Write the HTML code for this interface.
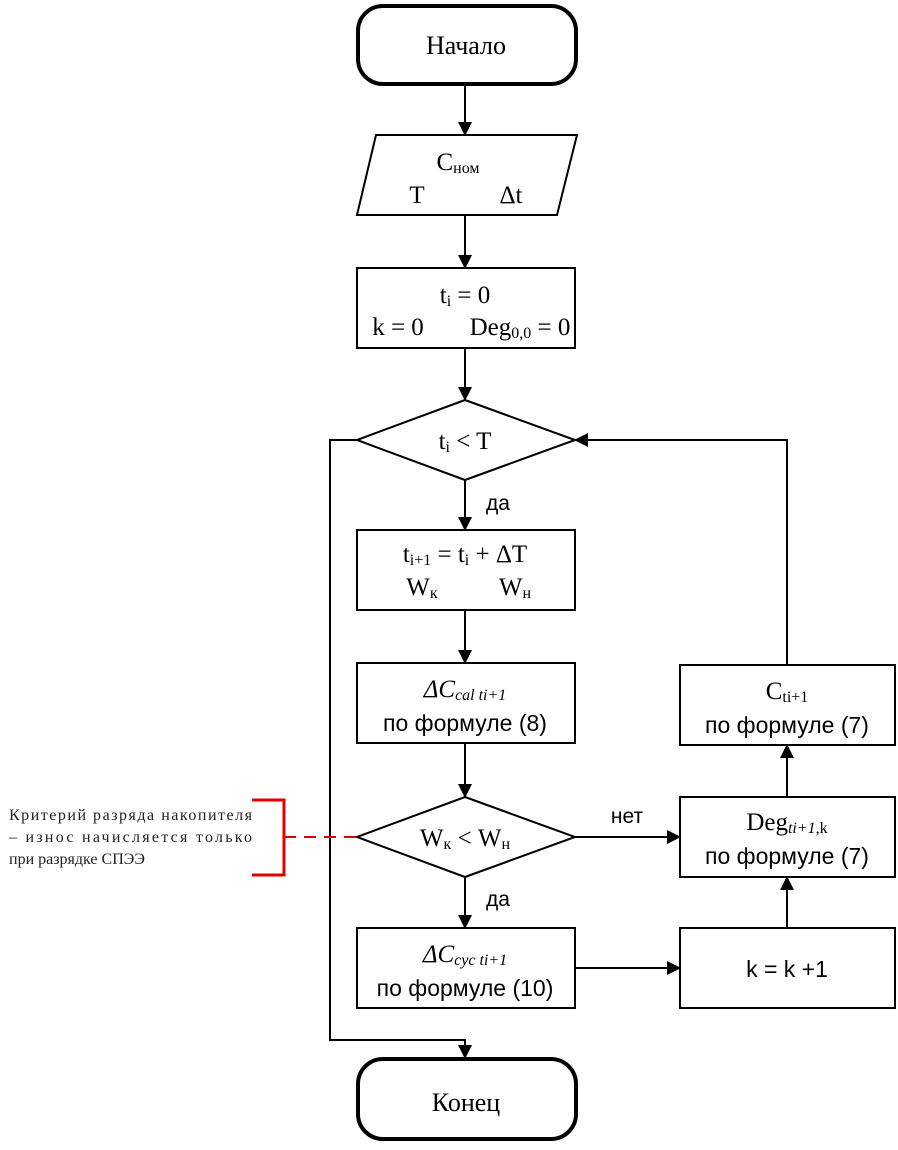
<!DOCTYPE html>
<html><head><meta charset="utf-8"><style>body{margin:0;background:#fff}</style></head><body>
<svg width="898" height="1145" xmlns="http://www.w3.org/2000/svg" font-family="Liberation Serif, serif" font-size="25" text-anchor="middle">
<defs><marker id="b" markerWidth="14" markerHeight="16" refX="13" refY="8" orient="auto" markerUnits="userSpaceOnUse"><path d="M0,1 L14,8 L0,15 z" fill="#000"/></marker></defs>
<g fill="none" stroke="#000" stroke-width="2">
<rect x="358" y="6" width="218" height="78" rx="25" stroke-width="4"/>
<polygon points="376,135 577,135 557,215 357,215"/>
<rect x="357" y="268" width="218" height="80"/>
<polygon points="357,440 465,400 575,440 465,480"/>
<rect x="357" y="530" width="218" height="80"/>
<rect x="357" y="663" width="218" height="80"/>
<polygon points="357,837 465,797 575,837 465,877"/>
<rect x="357" y="928" width="218" height="80"/>
<rect x="358" y="1059" width="218" height="80" rx="25" stroke-width="4"/>
<rect x="680" y="665" width="215" height="80"/>
<rect x="680" y="797" width="215" height="80"/>
<rect x="680" y="928" width="215" height="80"/>
<g marker-end="url(#b)">
<line x1="465" y1="86" x2="465" y2="135"/>
<line x1="465" y1="215" x2="465" y2="268"/>
<line x1="465" y1="348" x2="465" y2="400"/>
<line x1="465" y1="480" x2="465" y2="530"/>
<line x1="465" y1="610" x2="465" y2="663"/>
<line x1="465" y1="743" x2="465" y2="797"/>
<line x1="465" y1="877" x2="465" y2="928"/>
<line x1="575" y1="837" x2="680" y2="837"/>
<line x1="575" y1="968" x2="680" y2="968"/>
<line x1="787" y1="928" x2="787" y2="877"/>
<line x1="787" y1="797" x2="787" y2="745"/>
<polyline points="787,665 787,440 575,440"/>
<polyline points="357,440 330,440 330,1040 465,1040 465,1058"/>
</g>
</g>
<g stroke="#e00000" stroke-width="3" fill="none">
<polyline points="252,800 284,800 284,875 252,875"/>
<line x1="284" y1="837" x2="357" y2="837" stroke-width="2" stroke-dasharray="12,8"/>
</g>
<text x="466" y="54" font-size="26">Начало</text>
<text x="458" y="170">C<tspan font-size="16" dy="3">ном</tspan></text>
<text x="417" y="203">T</text>
<text x="511" y="203">Δt</text>
<text x="465" y="303">t<tspan font-size="16" dy="3">i</tspan><tspan dy="-3"> = 0</tspan></text>
<text x="398" y="335">k = 0</text>
<text x="520" y="335">Deg<tspan font-size="16" dy="3">0,0</tspan><tspan dy="-3"> = 0</tspan></text>
<text x="465" y="449">t<tspan font-size="16" dy="3">i</tspan><tspan dy="-3"> &lt; T</tspan></text>
<text x="498" y="510" font-family="Liberation Sans, sans-serif" font-size="21">да</text>
<text x="465" y="562">t<tspan font-size="16" dy="3">i+1</tspan><tspan dy="-3"> = t</tspan><tspan font-size="16" dy="3">i</tspan><tspan dy="-3"> + ΔT</tspan></text>
<text x="422" y="595">W<tspan font-size="16" dy="3">к</tspan></text>
<text x="515" y="595">W<tspan font-size="16" dy="3">н</tspan></text>
<text x="465" y="697" font-style="italic">ΔC<tspan font-size="16" dy="3">cal ti+1</tspan></text>
<text x="465" y="731" font-family="Liberation Sans, sans-serif" font-size="23">по формуле (8)</text>
<text x="465" y="846">W<tspan font-size="16" dy="3">к</tspan><tspan dy="-3"> &lt; W</tspan><tspan font-size="16" dy="3">н</tspan></text>
<text x="627" y="823" font-family="Liberation Sans, sans-serif" font-size="21">нет</text>
<text x="498" y="906" font-family="Liberation Sans, sans-serif" font-size="21">да</text>
<text x="465" y="962" font-style="italic">ΔC<tspan font-size="16" dy="3">cyc ti+1</tspan></text>
<text x="465" y="996" font-family="Liberation Sans, sans-serif" font-size="23">по формуле (10)</text>
<text x="466" y="1111" font-size="26">Конец</text>
<text x="787" y="699">C<tspan font-size="16" dy="3">ti+1</tspan></text>
<text x="787" y="733" font-family="Liberation Sans, sans-serif" font-size="23">по формуле (7)</text>
<text x="787" y="830">Deg<tspan font-size="16" dy="3" font-style="italic">ti+1</tspan><tspan font-size="16">,k</tspan></text>
<text x="787" y="864" font-family="Liberation Sans, sans-serif" font-size="23">по формуле (7)</text>
<text x="787" y="977" font-family="Liberation Sans, sans-serif" font-size="23">k = k +1</text>
<g text-anchor="start" font-size="16" fill="#222">
<text x="9" y="820" textLength="243" lengthAdjust="spacing">Критерий разряда накопителя</text>
<text x="9" y="842" textLength="243" lengthAdjust="spacing">– износ начисляется только</text>
<text x="9" y="864">при разрядке СПЭЭ</text>
</g>
</svg>
</body></html>
